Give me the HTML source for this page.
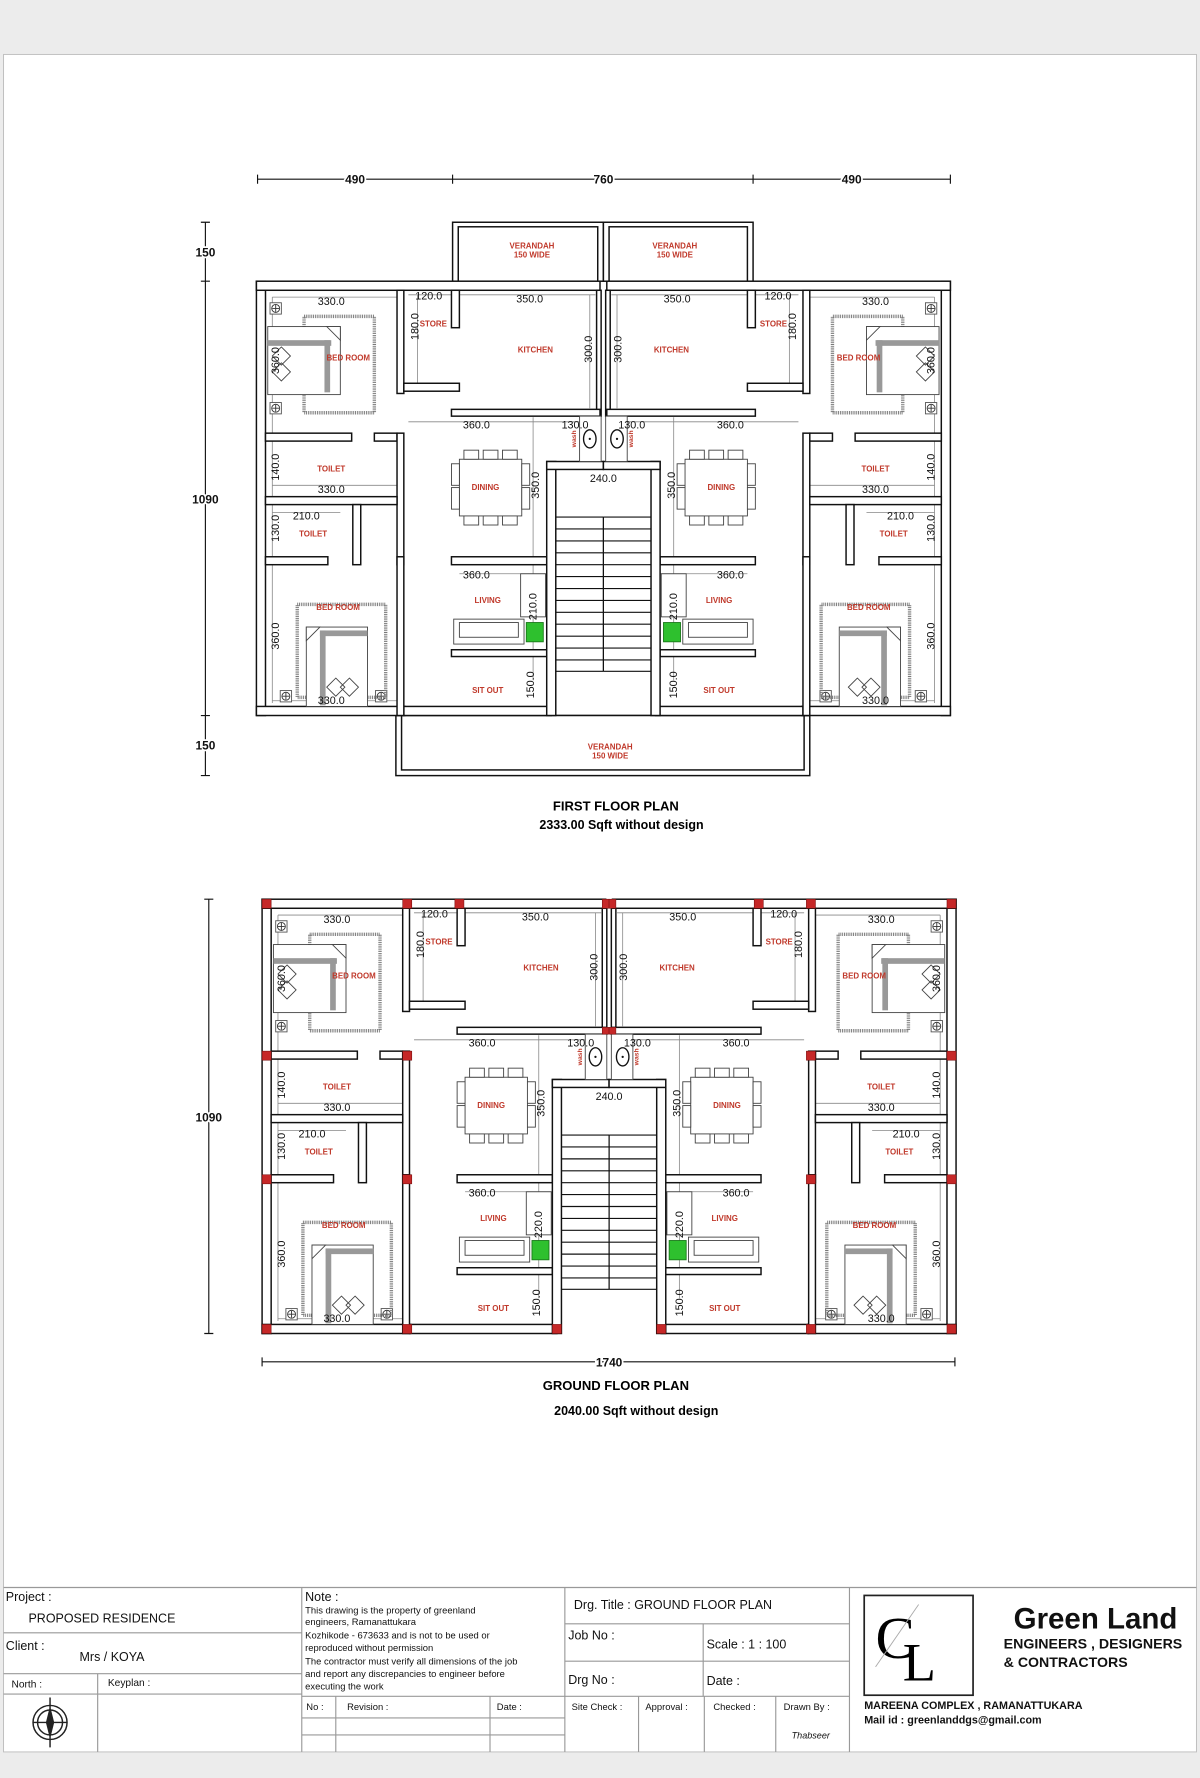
<!DOCTYPE html>
<html><head><meta charset="utf-8"><style>
html,body{margin:0;padding:0;background:#ececec}
svg{display:block}
text{font-family:"Liberation Sans",sans-serif}
.d{font-size:9.5px;fill:#111}
.r{font-size:7px;fill:#c0392b;font-weight:bold}
.w{fill:#fff;stroke:#111;stroke-width:1.3}
.t{fill:none;stroke:#888;stroke-width:0.7}
.f{fill:#fff;stroke:#444;stroke-width:0.8}
.tb{font-size:11px;fill:#111}
</style></head><body>
<svg width="1200" height="1778" viewBox="0 0 1058 1568" xmlns="http://www.w3.org/2000/svg">
<defs>
<g id="col"><rect x="-5" y="-5" width="10" height="10" fill="#fff" stroke="#555" stroke-width="0.8"/><circle r="3.5" fill="none" stroke="#333" stroke-width="0.8"/><path d="M-3 0H3M0 -3V3" stroke="#333" stroke-width="0.8"/></g>
<g id="half">
 <path class="t" d="M240 262H350M240 262V620M240 428H350M240 452H300M360 260H398M368 260V340M405 260H525M520 260V360M360 372H525M405 506H482M470 368V600M240 618H350"/>
 <rect class="w" x="226" y="248" width="8" height="383"/>
 <rect class="w" x="226" y="248" width="303" height="8"/>
 <rect class="w" x="226" y="623" width="131" height="8"/>
 <rect class="w" x="356" y="623" width="130" height="8"/>
 <rect class="w" x="350" y="256" width="6" height="91"/>
 <rect class="w" x="356" y="338" width="49" height="7"/>
 <rect class="w" x="398" y="256" width="7" height="33"/>
 <rect class="w" x="526" y="256" width="4" height="111"/>
 <rect class="w" x="398" y="361" width="131" height="6"/>
 <rect class="w" x="234" y="382" width="76" height="7"/>
 <rect class="w" x="330" y="382" width="20" height="7"/>
 <rect class="w" x="350" y="382" width="6" height="116"/>
 <rect class="w" x="234" y="438" width="116" height="7"/>
 <rect class="w" x="311" y="445" width="7" height="53"/>
 <rect class="w" x="234" y="491" width="55" height="7"/>
 <rect class="w" x="350" y="491" width="6" height="140"/>
 <rect class="w" x="398" y="491" width="84" height="7"/>
 <rect class="w" x="398" y="573" width="84" height="6"/>
 <rect class="w" x="482" y="407" width="8" height="224"/>
 <rect class="w" x="482" y="407" width="50" height="7"/>
 <rect class="f" x="511" y="367" width="19" height="40"/>
 <ellipse cx="520" cy="387" rx="5.5" ry="8" fill="none" stroke="#111" stroke-width="1.2"/>
 <circle cx="520" cy="387" r="1" fill="#111"/>
 <path stroke="#111" stroke-width="1" d="M490 456H532M490 466.5H532M490 477H532M490 487.5H532M490 498H532M490 508.5H532M490 519H532M490 529.5H532M490 540H532M490 550.5H532M490 561H532M490 571.5H532M490 582H532M490 592H532M532 456V592"/>
 <use href="#col" x="243" y="272"/><use href="#col" x="243" y="360"/>
 <rect x="268" y="279" width="62" height="85" fill="none" stroke="#777" stroke-width="3" stroke-dasharray="0.8 0.8"/>
 <rect class="f" x="236" y="288" width="64" height="60"/>
 <rect x="236" y="300" width="56" height="5" fill="#999"/>
 <rect x="286" y="300" width="5" height="46" fill="#999"/>
 <path d="M288 288L300 300V288Z" fill="#fff" stroke="#444" stroke-width="0.8"/>
 <path class="f" d="M248 306l8 8-8 8-8-8zM248 320l8 8-8 8-8-8z"/>
 <use href="#col" x="252" y="614"/><use href="#col" x="336" y="614"/>
 <rect x="262" y="533" width="78" height="82" fill="none" stroke="#777" stroke-width="3" stroke-dasharray="0.8 0.8"/>
 <rect class="f" x="270" y="553" width="54" height="70"/>
 <rect x="282" y="556" width="42" height="5" fill="#999"/>
 <rect x="282" y="556" width="5" height="66" fill="#999"/>
 <path d="M270 565L282 553H270Z" fill="#fff" stroke="#444" stroke-width="0.8"/>
 <path class="f" d="M296 598l8 8-8 8-8-8zM308 598l8 8-8 8-8-8z"/>
 <rect class="f" x="405" y="405" width="55" height="50"/>
 <rect class="f" x="409" y="397" width="13" height="8"/><rect class="f" x="426" y="397" width="13" height="8"/><rect class="f" x="443" y="397" width="13" height="8"/>
 <rect class="f" x="409" y="455" width="13" height="8"/><rect class="f" x="426" y="455" width="13" height="8"/><rect class="f" x="443" y="455" width="13" height="8"/>
 <rect class="f" x="398" y="409" width="7" height="19"/><rect class="f" x="398" y="430" width="7" height="19"/>
 <rect class="f" x="460" y="409" width="7" height="19"/><rect class="f" x="460" y="430" width="7" height="19"/>
 <rect class="f" x="400" y="546" width="62" height="22"/>
 <rect class="f" x="405" y="549" width="52" height="13"/>
 <rect class="f" x="459" y="506" width="22" height="38"/>
 <rect x="464" y="549" width="15" height="17" fill="#2ec02e" stroke="#1a7a1a" stroke-width="0.8"/>
</g>
</defs>

<rect x="0" y="0" width="1058" height="1568" fill="#ececec"/>
<rect x="3" y="48" width="1052" height="1497" fill="#fff" stroke="#bbb" stroke-width="0.8"/>

<g>
 <rect class="w" x="399" y="196" width="133" height="52"/><rect class="w" x="532" y="196" width="132" height="52"/>
 <rect fill="#fff" stroke="#111" stroke-width="1.3" x="404" y="200" width="123" height="48"/><rect fill="#fff" stroke="#111" stroke-width="1.3" x="537" y="200" width="122" height="48"/>
 <rect class="w" x="349" y="631" width="365" height="53"/><rect fill="#fff" stroke="#111" stroke-width="1.3" x="354" y="631" width="355" height="48"/>
 <use href="#half"/>
 <use href="#half" transform="translate(1064,0) scale(-1,1)"/>
</g>
<g text-anchor="middle">
 <text class="r" x="469" y="219">VERANDAH</text><text class="r" x="469" y="227">150 WIDE</text>
 <text class="r" x="595" y="219">VERANDAH</text><text class="r" x="595" y="227">150 WIDE</text>
 <text class="r" x="538" y="661">VERANDAH</text><text class="r" x="538" y="669">150 WIDE</text>
 <text class="r" x="307" y="318">BED ROOM</text><text class="r" x="757" y="318">BED ROOM</text>
 <text class="r" x="382" y="288">STORE</text><text class="r" x="682" y="288">STORE</text>
 <text class="r" x="472" y="311">KITCHEN</text><text class="r" x="592" y="311">KITCHEN</text>
 <text class="r" x="292" y="416">TOILET</text><text class="r" x="772" y="416">TOILET</text>
 <text class="r" x="276" y="473">TOILET</text><text class="r" x="788" y="473">TOILET</text>
 <text class="r" x="428" y="432">DINING</text><text class="r" x="636" y="432">DINING</text>
 <text class="r" x="298" y="538">BED ROOM</text><text class="r" x="766" y="538">BED ROOM</text>
 <text class="r" x="430" y="532">LIVING</text><text class="r" x="634" y="532">LIVING</text>
 <text class="r" x="430" y="611">SIT OUT</text><text class="r" x="634" y="611">SIT OUT</text>
 <text class="r" transform="translate(508,387) rotate(-90)" style="font-size:6px">wash</text>
 <text class="r" transform="translate(558,387) rotate(-90)" style="font-size:6px">wash</text>
 <text class="d" x="292" y="269">330.0</text><text class="d" x="772" y="269">330.0</text>
 <text class="d" x="378" y="264">120.0</text><text class="d" x="686" y="264">120.0</text>
 <text class="d" x="467" y="267">350.0</text><text class="d" x="597" y="267">350.0</text>
 <text class="d" x="420" y="378">360.0</text><text class="d" x="644" y="378">360.0</text>
 <text class="d" x="507" y="378">130.0</text><text class="d" x="557" y="378">130.0</text>
 <text class="d" x="292" y="435">330.0</text><text class="d" x="772" y="435">330.0</text>
 <text class="d" x="270" y="458">210.0</text><text class="d" x="794" y="458">210.0</text>
 <text class="d" x="420" y="510">360.0</text><text class="d" x="644" y="510">360.0</text>
 <text class="d" x="292" y="621">330.0</text><text class="d" x="772" y="621">330.0</text>
 <text class="d" x="532" y="425">240.0</text>
 <text class="d" transform="translate(369,288) rotate(-90)">180.0</text><text class="d" transform="translate(702,288) rotate(-90)">180.0</text>
 <text class="d" transform="translate(246,318) rotate(-90)">360.0</text><text class="d" transform="translate(824,318) rotate(-90)">360.0</text>
 <text class="d" transform="translate(522,308) rotate(-90)">300.0</text><text class="d" transform="translate(548,308) rotate(-90)">300.0</text>
 <text class="d" transform="translate(246,412) rotate(-90)">140.0</text><text class="d" transform="translate(824,412) rotate(-90)">140.0</text>
 <text class="d" transform="translate(475,428) rotate(-90)">350.0</text><text class="d" transform="translate(595,428) rotate(-90)">350.0</text>
 <text class="d" transform="translate(246,466) rotate(-90)">130.0</text><text class="d" transform="translate(824,466) rotate(-90)">130.0</text>
 <text class="d" transform="translate(473,535) rotate(-90)">210.0</text><text class="d" transform="translate(597,535) rotate(-90)">210.0</text>
 <text class="d" transform="translate(246,561) rotate(-90)">360.0</text><text class="d" transform="translate(824,561) rotate(-90)">360.0</text>
 <text class="d" transform="translate(471,604) rotate(-90)">150.0</text><text class="d" transform="translate(597,604) rotate(-90)">150.0</text>
 <text x="543" y="715" style="font-size:11.5px;font-weight:bold">FIRST FLOOR PLAN</text>
 <text x="548" y="731" style="font-size:11px;font-weight:bold">2333.00 Sqft  without design</text>
</g>
<g stroke="#111" stroke-width="1">
 <path d="M227 158H838M227 154V162M399 154V162M664 154V162M838 154V162"/>
 <path d="M181 196V684M177 196H185M177 248H185M177 631H185M177 684H185"/>
</g>
<g text-anchor="middle" style="font-size:10.5px;font-weight:bold">
 <text x="313" y="162" fill="#111" stroke="#fff" stroke-width="3" paint-order="stroke">490</text>
 <text x="532" y="162" fill="#111" stroke="#fff" stroke-width="3" paint-order="stroke">760</text>
 <text x="751" y="162" fill="#111" stroke="#fff" stroke-width="3" paint-order="stroke">490</text>
 <text x="181" y="226" fill="#111" stroke="#fff" stroke-width="3" paint-order="stroke">150</text>
 <text x="181" y="444" fill="#111" stroke="#fff" stroke-width="3" paint-order="stroke">1090</text>
 <text x="181" y="661" fill="#111" stroke="#fff" stroke-width="3" paint-order="stroke">150</text>
</g>

<g transform="translate(5,545)">
 <use href="#half"/>
 <use href="#half" transform="translate(1064,0) scale(-1,1)"/>
 <g fill="#c62828" stroke="#7a1010" stroke-width="0.5">
  <rect x="226" y="248" width="8" height="8"/><rect x="350" y="248" width="8" height="8"/><rect x="396" y="248" width="8" height="8"/><rect x="526" y="248" width="6" height="8"/><rect x="532" y="248" width="6" height="8"/><rect x="660" y="248" width="8" height="8"/><rect x="706" y="248" width="8" height="8"/><rect x="830" y="248" width="8" height="8"/>
  <rect x="226" y="382" width="8" height="8"/><rect x="350" y="382" width="8" height="8"/><rect x="706" y="382" width="8" height="8"/><rect x="830" y="382" width="8" height="8"/>
  <rect x="526" y="361" width="6" height="6"/><rect x="532" y="361" width="6" height="6"/>
  <rect x="226" y="491" width="8" height="8"/><rect x="350" y="491" width="8" height="8"/><rect x="706" y="491" width="8" height="8"/><rect x="830" y="491" width="8" height="8"/>
  <rect x="226" y="623" width="8" height="8"/><rect x="350" y="623" width="8" height="8"/><rect x="482" y="623" width="8" height="8"/><rect x="574" y="623" width="8" height="8"/><rect x="706" y="623" width="8" height="8"/><rect x="830" y="623" width="8" height="8"/>
 </g>
 <g text-anchor="middle">
 <text class="r" x="307" y="318">BED ROOM</text><text class="r" x="757" y="318">BED ROOM</text>
 <text class="r" x="382" y="288">STORE</text><text class="r" x="682" y="288">STORE</text>
 <text class="r" x="472" y="311">KITCHEN</text><text class="r" x="592" y="311">KITCHEN</text>
 <text class="r" x="292" y="416">TOILET</text><text class="r" x="772" y="416">TOILET</text>
 <text class="r" x="276" y="473">TOILET</text><text class="r" x="788" y="473">TOILET</text>
 <text class="r" x="428" y="432">DINING</text><text class="r" x="636" y="432">DINING</text>
 <text class="r" x="298" y="538">BED ROOM</text><text class="r" x="766" y="538">BED ROOM</text>
 <text class="r" x="430" y="532">LIVING</text><text class="r" x="634" y="532">LIVING</text>
 <text class="r" x="430" y="611">SIT OUT</text><text class="r" x="634" y="611">SIT OUT</text>
 <text class="r" transform="translate(508,387) rotate(-90)" style="font-size:6px">wash</text>
 <text class="r" transform="translate(558,387) rotate(-90)" style="font-size:6px">wash</text>
 <text class="d" x="292" y="269">330.0</text><text class="d" x="772" y="269">330.0</text>
 <text class="d" x="378" y="264">120.0</text><text class="d" x="686" y="264">120.0</text>
 <text class="d" x="467" y="267">350.0</text><text class="d" x="597" y="267">350.0</text>
 <text class="d" x="420" y="378">360.0</text><text class="d" x="644" y="378">360.0</text>
 <text class="d" x="507" y="378">130.0</text><text class="d" x="557" y="378">130.0</text>
 <text class="d" x="292" y="435">330.0</text><text class="d" x="772" y="435">330.0</text>
 <text class="d" x="270" y="458">210.0</text><text class="d" x="794" y="458">210.0</text>
 <text class="d" x="420" y="510">360.0</text><text class="d" x="644" y="510">360.0</text>
 <text class="d" x="292" y="621">330.0</text><text class="d" x="772" y="621">330.0</text>
 <text class="d" x="532" y="425">240.0</text>
 <text class="d" transform="translate(369,288) rotate(-90)">180.0</text><text class="d" transform="translate(702,288) rotate(-90)">180.0</text>
 <text class="d" transform="translate(246,318) rotate(-90)">360.0</text><text class="d" transform="translate(824,318) rotate(-90)">360.0</text>
 <text class="d" transform="translate(522,308) rotate(-90)">300.0</text><text class="d" transform="translate(548,308) rotate(-90)">300.0</text>
 <text class="d" transform="translate(246,412) rotate(-90)">140.0</text><text class="d" transform="translate(824,412) rotate(-90)">140.0</text>
 <text class="d" transform="translate(475,428) rotate(-90)">350.0</text><text class="d" transform="translate(595,428) rotate(-90)">350.0</text>
 <text class="d" transform="translate(246,466) rotate(-90)">130.0</text><text class="d" transform="translate(824,466) rotate(-90)">130.0</text>
 <text class="d" transform="translate(473,535) rotate(-90)">220.0</text><text class="d" transform="translate(597,535) rotate(-90)">220.0</text>
 <text class="d" transform="translate(246,561) rotate(-90)">360.0</text><text class="d" transform="translate(824,561) rotate(-90)">360.0</text>
 <text class="d" transform="translate(471,604) rotate(-90)">150.0</text><text class="d" transform="translate(597,604) rotate(-90)">150.0</text>
 </g>
</g>
<g stroke="#111" stroke-width="1">
 <path d="M184 793V1176M180 793H188M180 1176H188"/>
 <path d="M231 1201H842M231 1197V1205M842 1197V1205"/>
</g>
<g text-anchor="middle" style="font-size:10.5px;font-weight:bold">
 <text x="184" y="989" fill="#111" stroke="#fff" stroke-width="3" paint-order="stroke">1090</text>
 <text x="537" y="1205" fill="#111" stroke="#fff" stroke-width="3" paint-order="stroke">1740</text>
 <text x="543" y="1226" style="font-size:11.5px">GROUND FLOOR PLAN</text>
 <text x="561" y="1248" style="font-size:11px">2040.00 Sqft  without design</text>
</g>

<g stroke="#999" stroke-width="1" fill="none">
 <path d="M3 1400H1055M3 1440H266M3 1476H266M3 1494H266M86 1476V1545M266 1400V1545M498 1400V1545M749 1400V1545"/>
 <path d="M498 1432H749M498 1465H749M498 1496H749M620 1432V1496M266 1496H498M266 1515H498M266 1530H498M296 1496V1545M432 1496V1545M563 1496V1545M621 1496V1545M684 1496V1545"/>
</g>
<g class="tb">
 <text x="5" y="1412">Project :</text>
 <text x="25" y="1431">PROPOSED RESIDENCE</text>
 <text x="5" y="1455">Client :</text>
 <text x="70" y="1465">Mrs /    KOYA</text>
 <text x="10" y="1488" style="font-size:9px">North :</text>
 <text x="95" y="1487" style="font-size:9px">Keyplan :</text>
 <text x="269" y="1412">Note :</text>
 <g style="font-size:8.3px">
 <text x="269" y="1423">This drawing is the property of greenland</text>
 <text x="269" y="1433">engineers, Ramanattukara</text>
 <text x="269" y="1445">Kozhikode - 673633 and is not to be used or</text>
 <text x="269" y="1456">reproduced without permission</text>
 <text x="269" y="1468">The contractor must verify all dimensions of the job</text>
 <text x="269" y="1479">and report any discrepancies to engineer before</text>
 <text x="269" y="1490">executing the work</text>
 <text x="270" y="1508">No :</text><text x="306" y="1508">Revision :</text><text x="438" y="1508">Date  :</text>
 <text x="504" y="1508">Site Check :</text><text x="569" y="1508">Approval :</text><text x="629" y="1508">Checked  :</text><text x="691" y="1508">Drawn By :</text>
 </g>
 <text x="506" y="1419">Drg. Title :  GROUND FLOOR PLAN</text>
 <text x="501" y="1446">Job No  :</text>
 <text x="623" y="1454">Scale  :   1 : 100</text>
 <text x="501" y="1485">Drg No  :</text>
 <text x="623" y="1486">Date  :</text>
 <text x="698" y="1533" style="font-size:8px;font-style:italic">Thabseer</text>
</g>
<g transform="translate(44,1519)" stroke="#222" fill="none" stroke-width="1.3">
 <circle r="15"/><circle r="11"/><path d="M0 -22V22M-15 0H15" /><path d="M0 -12L3 0L0 12L-3 0Z" fill="#222"/>
</g>
<rect x="762" y="1407" width="96" height="88" fill="none" stroke="#222" stroke-width="1.5"/>
<text x="772" y="1462" style="font-family:'Liberation Serif',serif;font-size:52px">C</text>
<text x="796" y="1482" style="font-family:'Liberation Serif',serif;font-size:48px">L</text>
<line x1="772" y1="1470" x2="810" y2="1415" stroke="#aaa" stroke-width="0.8"/>
<text x="966" y="1436" text-anchor="middle" style="font-size:26px;font-weight:bold;fill:#111">Green Land</text>
<text x="885" y="1454" style="font-size:12.5px;font-weight:bold;fill:#111">ENGINEERS , DESIGNERS</text>
<text x="885" y="1470" style="font-size:12.5px;font-weight:bold;fill:#111">&amp; CONTRACTORS</text>
<text x="762" y="1507" style="font-size:9.5px;font-weight:bold;fill:#111">MAREENA COMPLEX , RAMANATTUKARA</text>
<text x="762" y="1520" style="font-size:9.5px;font-weight:bold;fill:#111">Mail id : greenlanddgs@gmail.com</text>
</svg>
</body></html>
